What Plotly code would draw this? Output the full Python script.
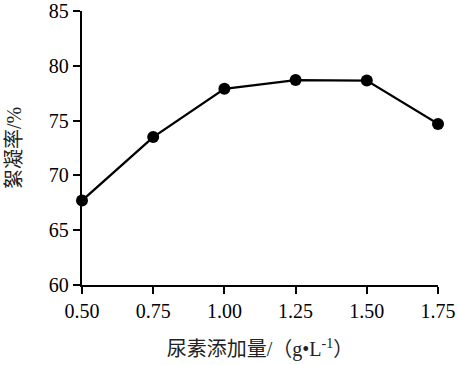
import plotly.graph_objects as go

x_vals = [0.50, 0.75, 1.00, 1.25, 1.50, 1.75]
y_vals = [67.7, 73.5, 77.9, 78.7, 78.65, 74.7]
x_ticks = [0.50, 0.75, 1.00, 1.25, 1.50, 1.75]
x_tick_text = ["0.50", "0.75", "1.00", "1.25", "1.50", "1.75"]
y_ticks = [60, 65, 70, 75, 80, 85]

fig = go.Figure()
fig.add_trace(go.Scatter(
    x=x_vals, y=y_vals, mode="lines+markers",
    line=dict(color="black", width=2.3),
    marker=dict(color="black", size=12),
    cliponaxis=False, showlegend=False,
))

tick_font = dict(family="Liberation Serif, Times New Roman, serif", size=20, color="black")
title_font = dict(family="Liberation Serif, Noto Sans CJK SC, serif", size=20, color="#222")

fig.update_layout(
    width=458, height=365,
    margin=dict(l=82, r=20, t=11, b=80),
    paper_bgcolor="white", plot_bgcolor="white",
    xaxis=dict(
        range=[0.5, 1.75], tickvals=x_ticks, ticktext=x_tick_text,
        showline=True, linecolor="black", linewidth=2.3,
        ticks="outside", ticklen=7, tickwidth=2.3, tickcolor="black",
        showgrid=False, zeroline=False, tickfont=tick_font,
        automargin=False, ticklabeloverflow="allow",
        title=dict(text="尿素添加量/（g•L<sup>-1</sup>）", font=title_font, standoff=21),
    ),
    yaxis=dict(
        range=[60, 85], tickvals=y_ticks,
        showline=True, linecolor="black", linewidth=2.3,
        ticks="outside", ticklen=7, tickwidth=2.3, tickcolor="black",
        showgrid=False, zeroline=False, tickfont=tick_font,
        automargin=False, ticklabeloverflow="allow",
        title=dict(text="絮凝率/%", font=title_font, standoff=22),
    ),
)

fig.write_html(
    "out.html",
    config={"displayModeBar": False},
    post_script="document.body.style.margin='0';document.body.style.overflow='hidden';",
)
